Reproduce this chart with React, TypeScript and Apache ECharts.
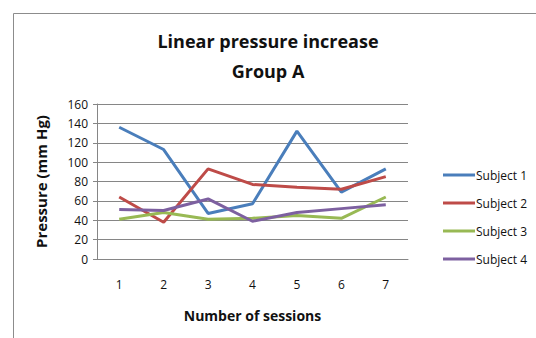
import React, { useEffect, useRef } from "react";
import * as echarts from "echarts";

const sessions = ["1", "2", "3", "4", "5", "6", "7"];
const subject1 = [136, 113, 47, 57, 132, 69, 93];
const subject2 = [64, 38, 93, 77, 74, 72, 85];
const subject3 = [41, 48, 41, 42, 45, 42, 64];
const subject4 = [51, 50, 62, 39, 48, 52, 56];
const seriesNames = ["Subject 1", "Subject 2", "Subject 3", "Subject 4"];
const colors = ["#4a7ebb", "#be4b48", "#98b954", "#7d60a0"];

const FONT = "'Open Sans', 'DejaVu Sans', sans-serif";

export default function App() {
  const ref = useRef<HTMLDivElement>(null);
  useEffect(() => {
    if (!ref.current) return;
    const chart = echarts.init(ref.current, null, { renderer: "svg" });
    const data = [subject1, subject2, subject3, subject4];
    chart.setOption({
      animation: false,
      backgroundColor: "#ffffff",
      title: [
        {
          text: "Linear pressure increase",
          left: "center",
          top: 27,
          textStyle: { fontFamily: FONT, fontSize: 18, fontWeight: "bold", color: "#111" },
        },
        {
          text: "Group A",
          left: "center",
          top: 57,
          textStyle: { fontFamily: FONT, fontSize: 18, fontWeight: "bold", color: "#111" },
        },
      ],
      graphic: [
        {
          type: "rect",
          shape: { x: 13.5, y: 13.5, width: 700, height: 500 },
          style: { fill: "none", stroke: "#8c8c8c", lineWidth: 1 },
          silent: true,
        },
      ],
      legend: {
        orient: "vertical",
        left: 438,
        top: 164,
        itemGap: 16,
        itemWidth: 32,
        itemHeight: 13,
        icon: "path://M0,5 L32,5 L32,8 L0,8 Z",
        data: seriesNames,
        textStyle: { fontFamily: FONT, fontSize: 12, color: "#111", padding: [0, 0, 0, -4] },
      },
      grid: { left: 97, right: 128, top: 104, bottom: 79 },
      xAxis: {
        type: "category",
        data: sessions,
        boundaryGap: true,
        name: "Number of sessions",
        nameLocation: "middle",
        nameGap: 49,
        nameTextStyle: { fontFamily: FONT, fontSize: 14, fontWeight: "bold", color: "#111" },
        axisLine: { lineStyle: { color: "#868686" } },
        axisTick: { show: false },
        axisLabel: { fontFamily: FONT, fontSize: 12, color: "#111", margin: 19 },
      },
      yAxis: {
        type: "value",
        min: 0,
        max: 160,
        interval: 20,
        name: "Pressure (mm Hg)",
        nameLocation: "middle",
        nameGap: 49,
        nameTextStyle: { fontFamily: FONT, fontSize: 15, fontWeight: "bold", color: "#111" },
        axisLine: { show: true, lineStyle: { color: "#868686" } },
        axisTick: { show: true, length: 4, lineStyle: { color: "#868686" } },
        axisLabel: { fontFamily: FONT, fontSize: 12, color: "#111", margin: 9 },
        splitLine: { lineStyle: { color: "#868686" } },
      },
      series: seriesNames.map((name, i) => ({
        name,
        type: "line",
        data: data[i],
        symbol: "none",
        color: colors[i],
        lineStyle: { width: 3, color: colors[i] },
      })),
    });
    return () => chart.dispose();
  }, []);
  return (
    <div
      ref={ref}
      style={{ position: "fixed", left: 0, top: 0, width: 536, height: 338 }}
    />
  );
}
